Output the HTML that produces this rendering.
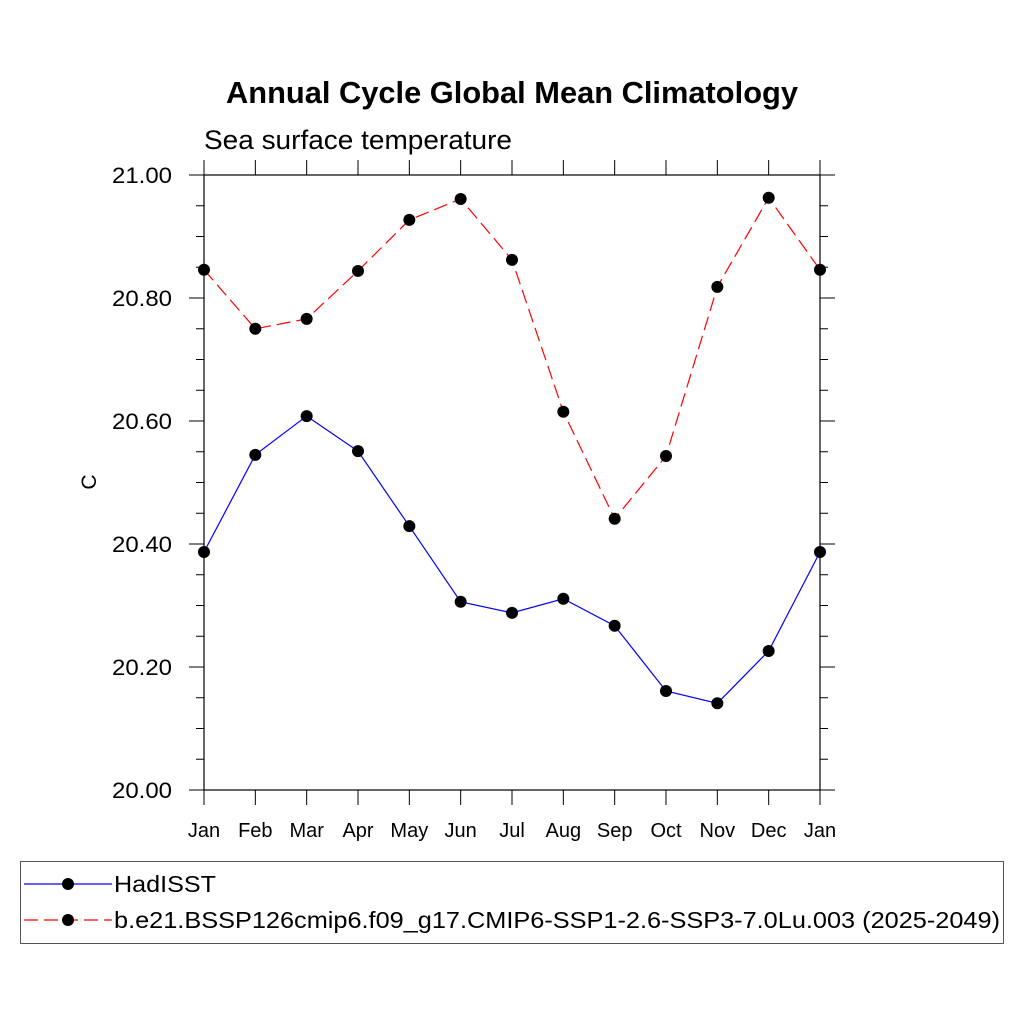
<!DOCTYPE html>
<html><head><meta charset="utf-8"><style>
body{margin:0;background:#fff}
svg{display:block;font-family:"Liberation Sans",sans-serif}
</style></head><body>
<svg id="chart" width="1024" height="1024" viewBox="0 0 1024 1024">
<text x="512" y="103" text-anchor="middle" font-size="31" font-weight="bold" textLength="572" lengthAdjust="spacingAndGlyphs">Annual Cycle Global Mean Climatology</text>
<text x="204" y="149" font-size="27" textLength="308" lengthAdjust="spacingAndGlyphs">Sea surface temperature</text>
<text transform="translate(96,482) rotate(-90)" text-anchor="middle" font-size="21">C</text>
<g id="axes"></g>
<g id="series"></g>
<rect x="20.5" y="861.5" width="983" height="82" fill="none" stroke="#555"/>
<g>
<line x1="24" y1="884" x2="112" y2="884" stroke="#0000ff" stroke-width="1.2"/>
<circle cx="68" cy="884" r="6" fill="#000"/>
<text x="114" y="892" font-size="23" textLength="102" lengthAdjust="spacingAndGlyphs">HadISST</text>
</g>
<g>
<line x1="24" y1="920" x2="112" y2="920" stroke="#ff0000" stroke-width="1.2" stroke-dasharray="14,6"/>
<circle cx="68" cy="920" r="6" fill="#000"/>
<text x="114" y="928" font-size="23" textLength="886" lengthAdjust="spacingAndGlyphs">b.e21.BSSP126cmip6.f09_g17.CMIP6-SSP1-2.6-SSP3-7.0Lu.003 (2025-2049)</text>
</g>
</svg>
<script>
const months=["Jan","Feb","Mar","Apr","May","Jun","Jul","Aug","Sep","Oct","Nov","Dec","Jan"];
const hadisst=[20.387,20.545,20.608,20.551,20.429,20.306,20.288,20.311,20.267,20.161,20.141,20.226,20.387];
const cesm=[20.846,20.750,20.766,20.844,20.927,20.961,20.862,20.615,20.441,20.543,20.818,20.963,20.846];
const yTicks=["20.00","20.20","20.40","20.60","20.80","21.00"];
const X0=204,X1=820,Y0=790,Y1=175,YMIN=20,YMAX=21;
const NS="http://www.w3.org/2000/svg";
const xS=i=>X0+(X1-X0)*i/(months.length-1);
const yS=v=>Y0-(v-YMIN)/(YMAX-YMIN)*(Y0-Y1);
const axes=document.getElementById('axes'),ser=document.getElementById('series');
function mk(t,a,p){const e=document.createElementNS(NS,t);for(const k in a)e.setAttribute(k,a[k]);p.appendChild(e);return e;}
const frame=mk('rect',{x:X0,y:Y1,width:X1-X0,height:Y0-Y1,fill:'none',stroke:'#000','stroke-width':1.2},axes);


for(let v=0;v<=20;v++){
  const y=yS(YMIN+v*0.05),L=v%4===0?15:8;
  mk('line',{x1:X0-L,y1:y,x2:X0,y2:y,stroke:'#000'},axes);
  mk('line',{x1:X1,y1:y,x2:X1+L,y2:y,stroke:'#000'},axes);
}
yTicks.forEach(t=>{
  const tx=mk('text',{x:X0-32,y:yS(parseFloat(t))+8,'text-anchor':'end','font-size':22,textLength:60,lengthAdjust:'spacingAndGlyphs'},axes);
  tx.textContent=t;
  
  
});
months.forEach((m,i)=>{
  const x=xS(i);
  mk('line',{x1:x,y1:Y0,x2:x,y2:Y0+15,stroke:'#000'},axes);
  mk('line',{x1:x,y1:Y1-15,x2:x,y2:Y1,stroke:'#000'},axes);
  const tx=mk('text',{x:x,y:Y0+47,'text-anchor':'middle','font-size':20},axes);
  tx.textContent=m;
  
  
});
function series(vals,color,dash,name){
  const pts=vals.map((v,i)=>xS(i)+','+yS(v)).join(' ');
  const pl=mk('polyline',{points:pts,fill:'none',stroke:color,'stroke-width':1.2},ser);
  if(dash)pl.setAttribute('stroke-dasharray',dash);
  
  
  vals.forEach((v,i)=>{
    const c=mk('circle',{cx:xS(i),cy:yS(v),r:6,fill:'#000'},ser);
    
    
  });
}
series(hadisst,'#0000ff',null,'hadisst');
series(cesm,'#ff0000','14,6','cesm');
</script>
</body></html>
